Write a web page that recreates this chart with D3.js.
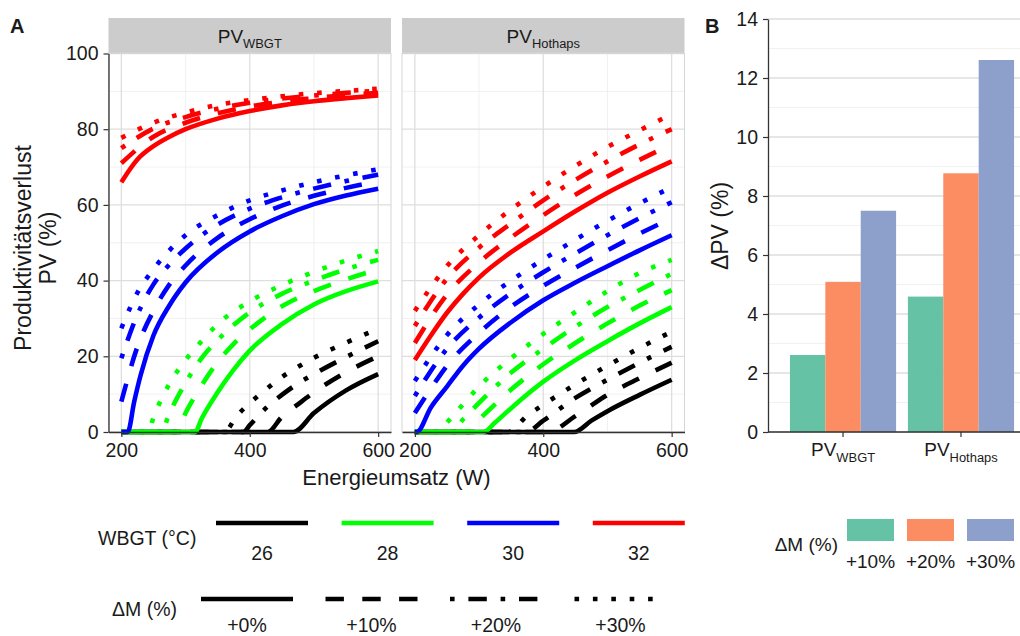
<!DOCTYPE html>
<html>
<head>
<meta charset="utf-8">
<script src="https://cdn.jsdelivr.net/npm/d3@7"></script>
<style>
  body { margin: 0; background: #fff; }
  text { font-family: "Liberation Sans", Arial, sans-serif; fill: #1a1a1a; }
</style>
</head>
<body>
<svg id="chart" width="1020" height="636"></svg>
<script>
// ---- data ----------------------------------------------------------------
const facets = ["WBGT", "Hothaps"];
const energyTicks = [200, 400, 600];
const energyMinor = [300, 500];
const pvTicks = [0, 20, 40, 60, 80, 100];
const pvMinor = [10, 30, 50, 70, 90];
const temps = ["26", "28", "30", "32"];
const tempColors = ["#000000", "#00ff00", "#0000ff", "#ff0000"];
const dmLabels = ["+0%", "+10%", "+20%", "+30%"];

// [Energieumsatz (W), PV (%)] per curve, order: +0%, +10%, +20%, +30%
const pvWbgt26 = [
  [[200, 0], [468, 0], [500, 5], [550, 11], [600, 15.3]],
  [[200, 0], [428, 0], [450, 4], [475, 7.3], [500, 10.5], [550, 15.8], [600, 20]],
  [[200, 0], [390, 0], [400, 1.8], [425, 6.3], [450, 9.8], [475, 12.8], [500, 15.3], [550, 19.8], [600, 24]],
  [[200, 0], [360, 0], [380, 4.3], [400, 7.6], [425, 11.2], [450, 14.5], [475, 17.2], [500, 19.6], [550, 23.6], [600, 27.3]]
];
const pvWbgt28 = [
  [[200, 0], [315, 0], [325, 3.5], [350, 10.5], [375, 16.5], [400, 21.5], [450, 28.5], [500, 33.7], [550, 37.2], [600, 39.8]],
  [[200, 0], [286, 0], [300, 5], [325, 12.3], [350, 18.5], [375, 23.3], [400, 27.1], [450, 33.2], [500, 37.2], [550, 40.3], [600, 43]],
  [[200, 0], [262, 0], [275, 5], [300, 13], [325, 19.5], [350, 24.3], [400, 31.6], [450, 36.5], [500, 40], [550, 43], [600, 45.5]],
  [[200, 0], [242, 0], [250, 3.8], [275, 12.8], [300, 19], [325, 24], [350, 28.5], [400, 34.5], [450, 38.8], [500, 42.3], [550, 45.3], [600, 47.8]]
];
const pvWbgt30 = [
  [[200, 0], [210, 0], [220, 8], [230, 15], [250, 25.5], [275, 33.5], [300, 39.5], [350, 47.5], [400, 53], [450, 57], [500, 60.2], [550, 62.5], [600, 64.3]],
  [[200, 8], [225, 22.5], [250, 32], [275, 39], [300, 44], [350, 51.3], [400, 56.2], [450, 59.8], [500, 62.4], [550, 64.5], [600, 66.3]],
  [[200, 19.5], [225, 31], [250, 39], [275, 44.3], [300, 48.5], [350, 54.8], [400, 59], [450, 62], [500, 64.3], [550, 66.3], [600, 68]],
  [[200, 27.4], [225, 36.8], [250, 43], [275, 48], [300, 52], [350, 57.3], [400, 61.2], [450, 63.8], [500, 66], [550, 67.8], [600, 69.4]]
];
const pvWbgt32 = [
  [[200, 66], [225, 72], [250, 75.5], [275, 78], [300, 80], [350, 82.8], [400, 84.8], [450, 86.3], [500, 87.4], [550, 88.2], [600, 88.9]],
  [[200, 71], [250, 78], [300, 81.7], [350, 84.2], [400, 86], [450, 87.3], [500, 88.2], [550, 89], [600, 89.6]],
  [[200, 75], [250, 80.2], [300, 83.2], [350, 85.4], [400, 87], [450, 88.1], [500, 88.9], [550, 89.6], [600, 90.2]],
  [[200, 77.7], [250, 81.7], [300, 84.4], [350, 86.4], [400, 87.7], [450, 88.7], [500, 89.5], [550, 90.1], [600, 90.7]]
];
const pvHot26 = [
  [[200, 0], [448, 0], [475, 3], [500, 5.5], [550, 9.8], [600, 13.8]],
  [[200, 0], [407, 0], [450, 4.2], [500, 9.8], [550, 14.2], [600, 18.3]],
  [[200, 0], [373, 0], [400, 3], [450, 9], [500, 13.8], [550, 18.3], [600, 22.5]],
  [[200, 0], [345, 0], [375, 4.3], [400, 7.2], [450, 12.6], [500, 17.5], [550, 22.2], [600, 26.5]]
];
const pvHot28 = [
  [[200, 0], [307, 0], [325, 2.5], [350, 6.3], [400, 13.3], [450, 19], [500, 24], [550, 28.7], [600, 33]],
  [[200, 0], [279, 0], [300, 3.3], [350, 11.2], [400, 17.9], [450, 23.5], [500, 28.7], [550, 33.4], [600, 37.5]],
  [[200, 0], [256, 0], [275, 3.3], [300, 7.7], [350, 15.7], [400, 22], [450, 27.8], [500, 33], [550, 37.5], [600, 41.8]],
  [[200, 0], [236, 0], [250, 2.5], [275, 7.3], [300, 12], [350, 19.5], [400, 25.9], [450, 31.7], [500, 37.2], [550, 42], [600, 45.5]]
];
const pvHot30 = [
  [[200, 0], [203, 0], [225, 6.5], [250, 12], [275, 17.5], [300, 22], [350, 29], [400, 34.8], [450, 39.5], [500, 43.8], [550, 48], [600, 52]],
  [[200, 5], [225, 11.5], [250, 17.5], [300, 26.2], [350, 33.1], [400, 38.6], [450, 43.4], [500, 48], [550, 52.4], [600, 56.5]],
  [[200, 9.5], [250, 22], [300, 30.2], [350, 36.7], [400, 42.2], [450, 47.2], [500, 52], [550, 56.5], [600, 60.7]],
  [[200, 13.5], [250, 25.6], [300, 33.7], [350, 40], [400, 45.6], [450, 50.8], [500, 55.8], [550, 60.4], [600, 64.7]]
];
const pvHot32 = [
  [[200, 19], [225, 25.5], [250, 31.5], [275, 36.5], [300, 40.8], [350, 47.5], [400, 53], [450, 58.3], [500, 63.2], [550, 67.5], [600, 71.5]],
  [[200, 23.5], [250, 36.3], [300, 44.8], [350, 51.4], [400, 57.3], [450, 62.7], [500, 67.5], [550, 71.9], [600, 76]],
  [[200, 28], [250, 40.5], [300, 48.7], [350, 55.1], [400, 61.2], [450, 66.6], [500, 71.5], [550, 76], [600, 80]],
  [[200, 32], [250, 43.8], [300, 52], [350, 58.8], [400, 64.8], [450, 70.3], [500, 75.3], [550, 79.7], [600, 84]]
];

// panel B
const barGroups = ["WBGT", "Hothaps"];
const barDm = ["+10%", "+20%", "+30%"];
const barColors = ["#66c2a5", "#fc8d62", "#8da0cb"];
const dpvWbgt = [2.61, 5.09, 7.5];
const dpvHothaps = [4.59, 8.77, 12.61];
const dpvTicks = [0, 2, 4, 6, 8, 10, 12, 14];
const dpvMinor = [1, 3, 5, 7, 9, 11, 13];

const facetCurves = [
  [pvWbgt26, pvWbgt28, pvWbgt30, pvWbgt32],
  [pvHot26, pvHot28, pvHot30, pvHot32]
];
const dpvByGroup = [dpvWbgt, dpvHothaps];

// ---- drawing ---------------------------------------------------------------
const svg = d3.select("#chart");
const lw = 4.6;
const dashes = [null, `${4 * lw},${4 * lw}`, `${lw},${3 * lw},${4 * lw},${3 * lw}`, `${lw},${3 * lw}`];
const majorGrid = "#dedede", minorGrid = "#ededed", axisCol = "#333";
const FONT = "'Liberation Sans', Arial, sans-serif";

const panelTop = 53.5, panelBottom = 432;
const panels = [{ x0: 108.5, x1: 391 }, { x0: 402, x1: 684.5 }];
const y = d3.scaleLinear().domain([0, 100]).range([panelBottom, panelTop]);

function addSub(sel, main, sub, size) {
  sel.append("tspan").text(main);
  sel.append("tspan").attr("font-size", size * 0.68).attr("dy", size * 0.28).text(sub);
}

function styleAxis(ax) {
  ax.select(".domain").attr("stroke", axisCol).attr("stroke-width", 1.3);
  ax.selectAll(".tick line").attr("stroke", axisCol).attr("stroke-width", 1.2);
  ax.selectAll("text").attr("font-size", 19.5).attr("fill", "#1a1a1a").attr("font-family", FONT);
}

svg.append("text").attr("x", 10).attr("y", 33).attr("font-size", 20).attr("font-weight", "bold").text("A");
svg.append("text").attr("x", 705).attr("y", 33).attr("font-size", 20).attr("font-weight", "bold").text("B");

panels.forEach((p, fi) => {
  const x = d3.scaleLinear().domain([180, 620]).range([p.x0, p.x1]);
  const g = svg.append("g");

  // strip
  g.append("rect").attr("x", p.x0).attr("y", 18).attr("width", p.x1 - p.x0).attr("height", panelTop - 18)
    .attr("fill", "#cccccc");
  const st = g.append("text").attr("x", (p.x0 + p.x1) / 2).attr("y", 43).attr("text-anchor", "middle")
    .attr("font-size", 19);
  addSub(st, "PV", facets[fi], 19);

  // grid
  g.selectAll(".ym").data(pvMinor).join("line")
    .attr("x1", p.x0).attr("x2", p.x1).attr("y1", d => y(d)).attr("y2", d => y(d))
    .attr("stroke", minorGrid).attr("stroke-width", 0.8);
  g.selectAll(".xm").data(energyMinor).join("line")
    .attr("y1", panelTop).attr("y2", panelBottom).attr("x1", d => x(d)).attr("x2", d => x(d))
    .attr("stroke", minorGrid).attr("stroke-width", 0.8);
  g.selectAll(".yM").data(pvTicks).join("line")
    .attr("x1", p.x0).attr("x2", p.x1).attr("y1", d => y(d)).attr("y2", d => y(d))
    .attr("stroke", majorGrid).attr("stroke-width", 1.3);
  g.selectAll(".xM").data(energyTicks).join("line")
    .attr("y1", panelTop).attr("y2", panelBottom).attr("x1", d => x(d)).attr("x2", d => x(d))
    .attr("stroke", majorGrid).attr("stroke-width", 1.3);
  g.append("rect").attr("x", p.x0).attr("y", panelTop).attr("width", p.x1 - p.x0).attr("height", panelBottom - panelTop)
    .attr("fill", "none").attr("stroke", "#d6d6d6").attr("stroke-width", 1);

  // curves
  const line = d3.line().x(d => x(d[0])).y(d => y(d[1])).curve(d3.curveMonotoneX);
  facetCurves[fi].forEach((set, ti) => {
    set.forEach((pts, di) => {
      g.append("path").attr("d", line(pts)).attr("fill", "none")
        .attr("stroke", tempColors[ti]).attr("stroke-width", lw)
        .attr("stroke-dasharray", dashes[di]).attr("stroke-linecap", "butt");
    });
  });

  // axes
  const xa = g.append("g").attr("transform", `translate(0,${panelBottom})`)
    .call(d3.axisBottom(x).tickValues(energyTicks).tickSize(5).tickSizeOuter(0).tickPadding(6));
  styleAxis(xa);

  if (fi === 0) {
    const ya = g.append("g").attr("transform", `translate(${p.x0},0)`)
      .call(d3.axisLeft(y).tickValues(pvTicks).tickSize(5).tickSizeOuter(0).tickPadding(5));
    styleAxis(ya);
  }
});

// axis titles A
svg.append("text").attr("x", (panels[0].x0 + panels[1].x1) / 2).attr("y", 485).attr("text-anchor", "middle")
  .attr("font-size", 22).text("Energieumsatz (W)");
svg.append("text").attr("transform", `translate(30.5,248) rotate(-90)`)
  .attr("text-anchor", "middle").attr("font-size", 23).text("Produktivitätsverlust");
svg.append("text").attr("transform", `translate(55.5,248) rotate(-90)`)
  .attr("text-anchor", "middle").attr("font-size", 23).text("PV (%)");

// legend A
const legA = svg.append("g");
legA.append("text").attr("x", 98).attr("y", 545).attr("font-size", 19.5).text("WBGT (°C)");
temps.forEach((t, i) => {
  const x0 = 216 + i * 125.6;
  legA.append("line").attr("x1", x0).attr("x2", x0 + 92).attr("y1", 523).attr("y2", 523)
    .attr("stroke", tempColors[i]).attr("stroke-width", lw);
  legA.append("text").attr("x", x0 + 46).attr("y", 560).attr("text-anchor", "middle")
    .attr("font-size", 19.5).text(t);
});
legA.append("text").attr("x", 112).attr("y", 616).attr("font-size", 19.5).text("ΔM (%)");
dmLabels.forEach((l, i) => {
  const x0 = 201 + i * 124.5;
  legA.append("line").attr("x1", x0).attr("x2", x0 + 92).attr("y1", 599).attr("y2", 599)
    .attr("stroke", "#000").attr("stroke-width", lw).attr("stroke-dasharray", dashes[i]);
  legA.append("text").attr("x", x0 + 46).attr("y", 632).attr("text-anchor", "middle")
    .attr("font-size", 19.5).text(l);
});

// ---- panel B ------------------------------------------------------------------
const bx0 = 768, bTop = 19;
const yB = d3.scaleLinear().domain([0, 14]).range([panelBottom, bTop]);
const xB = d3.scaleBand().domain(barGroups).range([bx0, 1036]).paddingInner(0.1).paddingOuter(0.186);
const xSub = d3.scaleBand().domain(barDm).range([0, xB.bandwidth()]);
const gB = svg.append("g");

gB.selectAll(".bm").data(dpvMinor).join("line")
  .attr("x1", bx0).attr("x2", 1020).attr("y1", d => yB(d)).attr("y2", d => yB(d))
  .attr("stroke", minorGrid).attr("stroke-width", 0.8);
gB.selectAll(".bM").data(dpvTicks).join("line")
  .attr("x1", bx0).attr("x2", 1020).attr("y1", d => yB(d)).attr("y2", d => yB(d))
  .attr("stroke", majorGrid).attr("stroke-width", 1.3);

barGroups.forEach((grp, gi) => {
  gB.selectAll(`.bar${gi}`).data(dpvByGroup[gi]).join("rect")
    .attr("x", (d, i) => xB(grp) + xSub(barDm[i]))
    .attr("width", xSub.bandwidth())
    .attr("y", d => yB(d))
    .attr("height", d => panelBottom - yB(d))
    .attr("fill", (d, i) => barColors[i]);
});

const yaB = gB.append("g").attr("transform", `translate(${bx0},0)`)
  .call(d3.axisLeft(yB).tickValues(dpvTicks).tickSize(5).tickSizeOuter(0).tickPadding(5));
styleAxis(yaB);

const xaB = gB.append("g").attr("transform", `translate(0,${panelBottom})`)
  .call(d3.axisBottom(xB).tickSize(5).tickSizeOuter(0).tickPadding(6));
styleAxis(xaB);
xaB.select(".domain").attr("d", `M${bx0},0H1020`);
xaB.selectAll(".tick text").each(function (d) {
  const t = d3.select(this).text(null).attr("font-size", 19);
  addSub(t, "PV", d, 19);
});

svg.append("text").attr("transform", `translate(728,226) rotate(-90)`)
  .attr("text-anchor", "middle").attr("font-size", 23).text("ΔPV (%)");

// legend B
const legB = svg.append("g");
legB.append("text").attr("x", 838).attr("y", 551).attr("text-anchor", "end").attr("font-size", 19).text("ΔM (%)");
barDm.forEach((l, i) => {
  const x0 = 847 + i * 60;
  legB.append("rect").attr("x", x0).attr("y", 519).attr("width", 47).attr("height", 22).attr("fill", barColors[i]);
  legB.append("text").attr("x", x0 + 23.5).attr("y", 568).attr("text-anchor", "middle")
    .attr("font-size", 19).text(l);
});
</script>
</body>
</html>
